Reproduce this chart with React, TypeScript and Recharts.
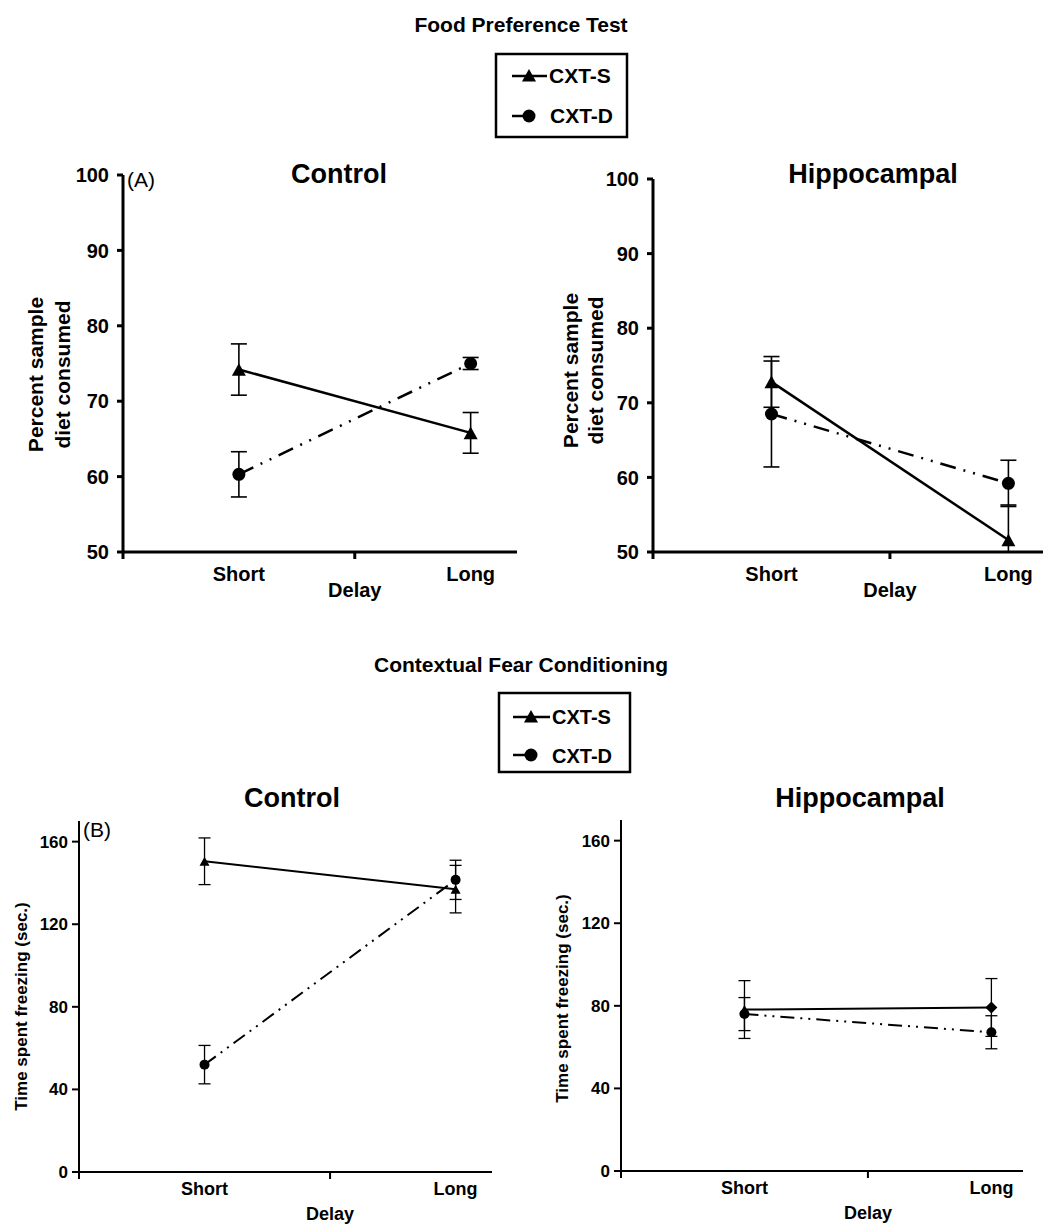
import { LineChart, Line, XAxis, YAxis, ErrorBar } from 'recharts'

const FONT = '"Liberation Sans", Arial, Helvetica, sans-serif'

const delays = ['Short', 'Long']
const delayPos = [0.5, 1.5]

// (A) food preference test, percent sample diet consumed
const foodControlS = [74.2, 65.8]
const foodControlSErr = [3.4, 2.7]
const foodControlD = [60.3, 75.0]
const foodControlDErr = [3.0, 0.8]
const foodHippoS = [72.8, 51.6]
const foodHippoSErr = [3.4, 4.7]
const foodHippoD = [68.5, 59.2]
const foodHippoDErr = [7.1, 3.1]

// (B) contextual fear conditioning, time spent freezing (sec.)
const fearControlS = [150.5, 137.0]
const fearControlSErr = [11.3, 11.5]
const fearControlD = [52.0, 141.5]
const fearControlDErr = [9.3, 9.5]
const fearHippoS = [78.2, 79.2]
const fearHippoSErr = [14.0, 14.0]
const fearHippoD = [76.0, 67.2]
const fearHippoDErr = [8.0, 8.0]
const fearHippoSMarks = ['triangle', 'diamond']

const foodTicks = [50, 60, 70, 80, 90, 100]
const fearTicks = [0, 40, 80, 120, 160]
const seriesNames = ['CXT-S', 'CXT-D']

// error bars stop at the x axis, like the printed figure
function rows(yMin: number, s: number[], sErr: number[], d: number[], dErr: number[], marks?: string[]) {
  return delays.map((name, i) => ({
    name,
    x: delayPos[i],
    s: s[i],
    sErr: [Math.min(sErr[i], s[i] - yMin), sErr[i]],
    d: d[i],
    dErr: [Math.min(dErr[i], d[i] - yMin), dErr[i]],
    mark: marks ? marks[i] : 'triangle',
  }))
}

const BIG = {
  axis: 3, tickFont: 20, tickSize: 6, tickMargin: 8, xFont: 20, shortDy: 29, delayDy: 45,
  line: 2.5, tri: 14, dotR: 6.5, cap: 8, err: 1.6, labelFont: 21, dash: '16 8 2 8 2 8',
}
const SMALL = {
  axis: 2, tickFont: 17, tickSize: 7, tickMargin: 4, xFont: 18, shortDy: 23, delayDy: 48,
  line: 2, tri: 10, dotR: 5, cap: 6, err: 1.3, labelFont: 17, dash: '14 6 2 6 2 6',
}

type Style = typeof BIG

function markerDot(st: Style) {
  return (props: any) => {
    const { cx, cy, index, payload } = props
    if (cx == null || cy == null) return <g key={`m-${index}`} />
    if (payload && payload.mark === 'diamond') {
      const r = 6
      return <path key={`m-${index}`} d={`M${cx},${cy - r}L${cx + r},${cy}L${cx},${cy + r}L${cx - r},${cy}Z`} fill="#000" />
    }
    const w = st.tri
    const h = w * 0.9
    return (
      <path key={`m-${index}`} d={`M${cx},${cy - h / 2}L${cx + w / 2},${cy + h / 2}L${cx - w / 2},${cy + h / 2}Z`} fill="#000" />
    )
  }
}

function circleDot(st: Style) {
  return (props: any) => {
    const { cx, cy, index } = props
    if (cx == null || cy == null) return <g key={`c-${index}`} />
    return <circle key={`c-${index}`} cx={cx} cy={cy} r={st.dotR} fill="#000" />
  }
}

type PanelProps = {
  left: number
  top: number
  plotW: number
  plotH: number
  ml: number
  mr: number
  xMax: number
  yDomain: [number, number]
  yTicks: number[]
  data: ReturnType<typeof rows>
  st: Style
  yLabel: string[]
  yLabelOffsets: number[]
  yLabelDy: number
}

const MT = 10
const MB = 60

function Panel(p: PanelProps) {
  const { st } = p
  const XTick = (props: any) => {
    const { x, y, payload } = props
    const v = payload.value
    const i = delayPos.indexOf(v)
    if (i >= 0) {
      return (
        <text x={x} y={y + st.shortDy} textAnchor="middle" fontSize={st.xFont} fontWeight="bold" fontFamily={FONT} fill="#000">
          {delays[i]}
        </text>
      )
    }
    return <line x1={x} y1={y} x2={x} y2={y + 7} stroke="#000" strokeWidth={st.axis} />
  }

  const delayLabel = (props: any) => {
    const vb = props.viewBox
    const x = vb.x + (vb.width / p.xMax) * 1
    return (
      <text x={x} y={vb.y + st.delayDy} textAnchor="middle" fontSize={st.xFont} fontWeight="bold" fontFamily={FONT} fill="#000">
        Delay
      </text>
    )
  }

  const yLabel = (props: any) => {
    const vb = props.viewBox
    const axisX = vb.x + vb.width
    const cy = vb.y + vb.height / 2 + p.yLabelDy
    return (
      <g>
        {p.yLabel.map((t, i) => {
          const bx = axisX - p.yLabelOffsets[i]
          return (
            <text key={t} x={bx} y={cy} transform={`rotate(-90, ${bx}, ${cy})`} textAnchor="middle" fontSize={st.labelFont} fontWeight="bold" fontFamily={FONT} fill="#000">
              {t}
            </text>
          )
        })}
      </g>
    )
  }

  return (
    <div style={{ position: 'absolute', left: p.left - p.ml, top: p.top - MT }}>
      <LineChart width={p.ml + p.plotW + p.mr} height={MT + p.plotH + MB} data={p.data} margin={{ top: MT, right: p.mr, bottom: 0, left: 0 }}>
        <XAxis
          type="number"
          dataKey="x"
          domain={[0, p.xMax]}
          ticks={[0, 0.5, 1, 1.5]}
          interval={0}
          allowDataOverflow
          height={MB}
          tickSize={0}
          tickMargin={0}
          tickLine={false}
          axisLine={{ stroke: '#000', strokeWidth: st.axis }}
          tick={<XTick />}
          label={{ content: delayLabel }}
        />
        <YAxis
          type="number"
          domain={p.yDomain}
          ticks={p.yTicks}
          interval={0}
          allowDataOverflow
          width={p.ml}
          tickSize={st.tickSize}
          tickMargin={st.tickMargin}
          tickLine={{ stroke: '#000', strokeWidth: st.axis }}
          axisLine={{ stroke: '#000', strokeWidth: st.axis }}
          tick={{ fill: '#000', fontSize: st.tickFont, fontWeight: 'bold', fontFamily: FONT }}
          label={{ content: yLabel }}
        />
        <Line dataKey="s" name={seriesNames[0]} stroke="#000" strokeWidth={st.line} dot={markerDot(st)} activeDot={false} isAnimationActive={false}>
          <ErrorBar dataKey="sErr" direction="y" width={st.cap} stroke="#000" strokeWidth={st.err} />
        </Line>
        <Line dataKey="d" name={seriesNames[1]} stroke="#000" strokeWidth={st.line} strokeDasharray={st.dash} dot={circleDot(st)} activeDot={false} isAnimationActive={false}>
          <ErrorBar dataKey="dErr" direction="y" width={st.cap} stroke="#000" strokeWidth={st.err} />
        </Line>
      </LineChart>
    </div>
  )
}

function LegendBox({ x, y, w, h, rows: r, font, tri, dotR }: { x: number; y: number; w: number; h: number; rows: { ly: number; base: number; lx0: number; lx1: number; mx: number; tx: number }[]; font: number; tri: number; dotR: number }) {
  return (
    <g>
      <rect x={x} y={y} width={w} height={h} fill="#fff" stroke="#000" strokeWidth={2.5} />
      {r.map((row, i) => (
        <g key={i}>
          <line x1={row.lx0} y1={row.ly} x2={row.lx1} y2={row.ly} stroke="#000" strokeWidth={2.5} />
          {i === 0 ? (
            <path d={`M${row.mx},${row.ly - tri * 0.5}L${row.mx + tri / 2},${row.ly + tri * 0.4}L${row.mx - tri / 2},${row.ly + tri * 0.4}Z`} fill="#000" />
          ) : (
            <circle cx={row.mx} cy={row.ly} r={dotR} fill="#000" />
          )}
          <text x={row.tx} y={row.base} fontSize={font} fontWeight="bold" fontFamily={FONT} fill="#000">
            {seriesNames[i]}
          </text>
        </g>
      ))}
    </g>
  )
}

export default function App() {
  const bold = { fontFamily: FONT, fontWeight: 'bold' as const, fill: '#000' }
  return (
    <div style={{ position: 'absolute', left: 0, top: 0, width: 1043, height: 1224, overflow: 'hidden', background: '#fff', fontFamily: FONT }}>
      <Panel left={123} top={175} plotW={394} plotH={377} ml={123} mr={10} xMax={1.7} yDomain={[50, 100]} yTicks={foodTicks}
        data={rows(50, foodControlS, foodControlSErr, foodControlD, foodControlDErr)} st={BIG}
        yLabel={['Percent sample', 'diet consumed']} yLabelOffsets={[80, 53]} yLabelDy={11} />
      <Panel left={653} top={179} plotW={390} plotH={373} ml={110} mr={0} xMax={1.646} yDomain={[50, 100]} yTicks={foodTicks}
        data={rows(50, foodHippoS, foodHippoSErr, foodHippoD, foodHippoDErr)} st={BIG}
        yLabel={['Percent sample', 'diet consumed']} yLabelOffsets={[75, 50]} yLabelDy={5} />
      <Panel left={79} top={821} plotW={413} plotH={351} ml={79} mr={10} xMax={1.645} yDomain={[0, 170]} yTicks={fearTicks}
        data={rows(0, fearControlS, fearControlSErr, fearControlD, fearControlDErr)} st={SMALL}
        yLabel={['Time spent freezing (sec.)']} yLabelOffsets={[52]} yLabelDy={10} />
      <Panel left={621} top={820} plotW={402} plotH={351} ml={80} mr={10} xMax={1.628} yDomain={[0, 170]} yTicks={fearTicks}
        data={rows(0, fearHippoS, fearHippoSErr, fearHippoD, fearHippoDErr, fearHippoSMarks)} st={SMALL}
        yLabel={['Time spent freezing (sec.)']} yLabelOffsets={[53]} yLabelDy={3} />

      <svg width={1043} height={1224} style={{ position: 'absolute', left: 0, top: 0, pointerEvents: 'none' }}>
        <text x={521} y={32} textAnchor="middle" fontSize={21} {...bold}>Food Preference Test</text>
        <text x={521} y={672} textAnchor="middle" fontSize={21} {...bold}>Contextual Fear Conditioning</text>

        <text x={339} y={183} textAnchor="middle" fontSize={27} {...bold}>Control</text>
        <text x={873} y={183} textAnchor="middle" fontSize={27} {...bold}>Hippocampal</text>
        <text x={292} y={807} textAnchor="middle" fontSize={27} {...bold}>Control</text>
        <text x={860} y={807} textAnchor="middle" fontSize={27} {...bold}>Hippocampal</text>

        <text x={127} y={187} fontSize={21} fontFamily={FONT} fill="#000">(A)</text>
        <text x={83} y={837} fontSize={21} fontFamily={FONT} fill="#000">(B)</text>

        <LegendBox x={496} y={54} w={131} h={83} font={21} tri={14} dotR={6.5}
          rows={[
            { ly: 76, base: 83, lx0: 512, lx1: 547, mx: 529, tx: 549 },
            { ly: 116, base: 123, lx0: 512, lx1: 529, mx: 529, tx: 550 },
          ]} />
        <LegendBox x={499} y={693} w={131} h={79} font={20} tri={14} dotR={6.5}
          rows={[
            { ly: 717, base: 724, lx0: 513, lx1: 550, mx: 531, tx: 552 },
            { ly: 755, base: 763, lx0: 513, lx1: 531, mx: 531, tx: 552 },
          ]} />
      </svg>
    </div>
  )
}
